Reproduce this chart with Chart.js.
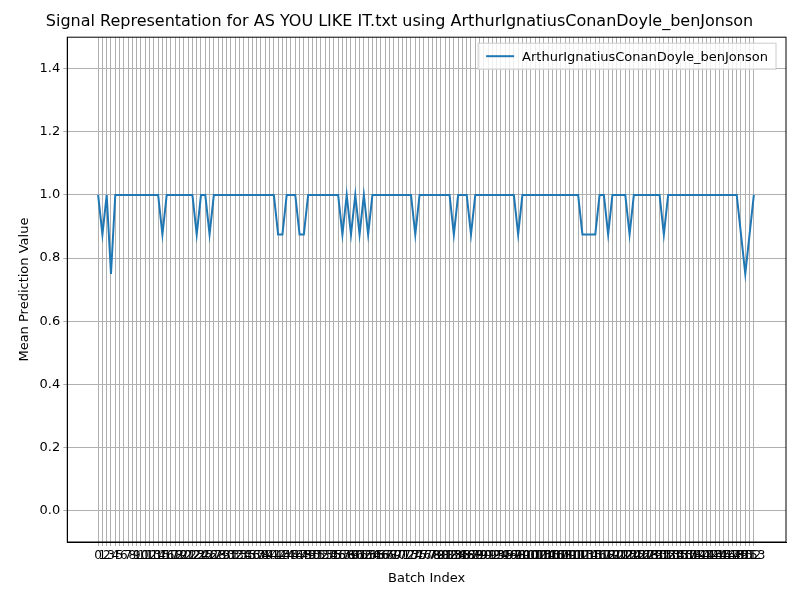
<!DOCTYPE html>
<html>
<head>
<script src="https://cdn.jsdelivr.net/npm/chart.js@4"></script>
<style>body{margin:0;background:#fff}</style>
</head>
<body>
<canvas id="c" width="800" height="600"></canvas>
<script>
const seriesName = 'ArthurIgnatiusConanDoyle_benJonson';
const meanValues = [
  1,.875,1,.75,1,1,1,1,1,1,
  1,1,1,1,1,.875,1,1,1,1,
  1,1,1,.875,1,1,.875,1,1,1,
  1,1,1,1,1,1,1,1,1,1,
  1,1,.875,.875,1,1,1,.875,.875,1,
  1,1,1,1,1,1,1,.875,1,.875,
  1,.875,1,.875,1,1,1,1,1,1,
  1,1,1,1,.875,1,1,1,1,1,
  1,1,1,.875,1,1,1,.875,1,1,
  1,1,1,1,1,1,1,1,.875,1,
  1,1,1,1,1,1,1,1,1,1,
  1,1,1,.875,.875,.875,.875,1,1,.875,
  1,1,1,1,.875,1,1,1,1,1,
  1,1,.875,1,1,1,1,1,1,1,
  1,1,1,1,1,1,1,1,1,1,
  .875,.75,.875,1
];
const batchIndex = meanValues.map((_, i) => i);
const yTicks = [0, 0.2, 0.4, 0.6, 0.8, 1.0, 1.2, 1.4];

Chart.defaults.font.family = 'DejaVu Sans';
Chart.defaults.color = '#000';

// frame around the plot and legend box inside the top right corner
const framePlugin = {
  id: 'frame',
  afterDraw(chart) {
    const {ctx, chartArea: a} = chart;
    ctx.save();
    ctx.strokeStyle = '#000';
    ctx.lineWidth = 1;
    ctx.strokeRect(a.left, a.top, a.right - a.left, a.bottom - a.top);
    ctx.font = '13px DejaVu Sans';
    const tw = ctx.measureText(seriesName).width;
    const w = tw + 52, h = 26;
    const x = a.right - w - 10, y = a.top + 6;
    ctx.fillStyle = 'rgba(255,255,255,0.8)';
    ctx.strokeStyle = '#ccc';
    ctx.fillRect(x, y, w, h);
    ctx.strokeRect(x, y, w, h);
    ctx.strokeStyle = '#1f77b4';
    ctx.lineWidth = 2;
    ctx.beginPath();
    ctx.moveTo(x + 8, y + h / 2);
    ctx.lineTo(x + 36, y + h / 2);
    ctx.stroke();
    ctx.fillStyle = '#000';
    ctx.textBaseline = 'middle';
    ctx.fillText(seriesName, x + 44, y + h / 2 + 1);
    ctx.restore();
  }
};

new Chart(document.getElementById('c'), {
  type: 'line',
  data: {
    datasets: [{
      label: seriesName,
      data: batchIndex.map(i => ({x: i, y: meanValues[i]})),
      borderColor: '#1f77b4',
      borderWidth: 2,
      pointRadius: 0,
      tension: 0
    }]
  },
  options: {
    responsive: false,
    animation: false,
    layout: {padding: {left: 13, right: 14, top: 0, bottom: 10}},
    plugins: {
      title: {display: true, text: 'Signal Representation for AS YOU LIKE IT.txt using ' + seriesName,
        font: {size: 16, weight: 'normal'}, padding: {top: 12, bottom: 6}},
      legend: {display: false}
    },
    scales: {
      x: {
        type: 'linear', min: -7.2, max: 160.5,
        afterBuildTicks: ax => { ax.ticks = batchIndex.map(v => ({value: v})); },
        ticks: {autoSkip: false, maxRotation: 0, font: {size: 12}, callback: v => String(v)},
        grid: {color: '#b0b0b0', tickLength: 4},
        border: {color: '#000'},
        title: {display: true, text: 'Batch Index', font: {size: 13}}
      },
      y: {
        min: -0.1, max: 1.5,
        afterBuildTicks: ax => { ax.ticks = yTicks.map(v => ({value: v})); },
        ticks: {font: {size: 13}, callback: v => v.toFixed(1)},
        grid: {color: '#b0b0b0', tickLength: 4},
        border: {color: '#000'},
        title: {display: true, text: 'Mean Prediction Value', font: {size: 13}}
      }
    }
  },
  plugins: [framePlugin]
});
</script>
</body>
</html>
